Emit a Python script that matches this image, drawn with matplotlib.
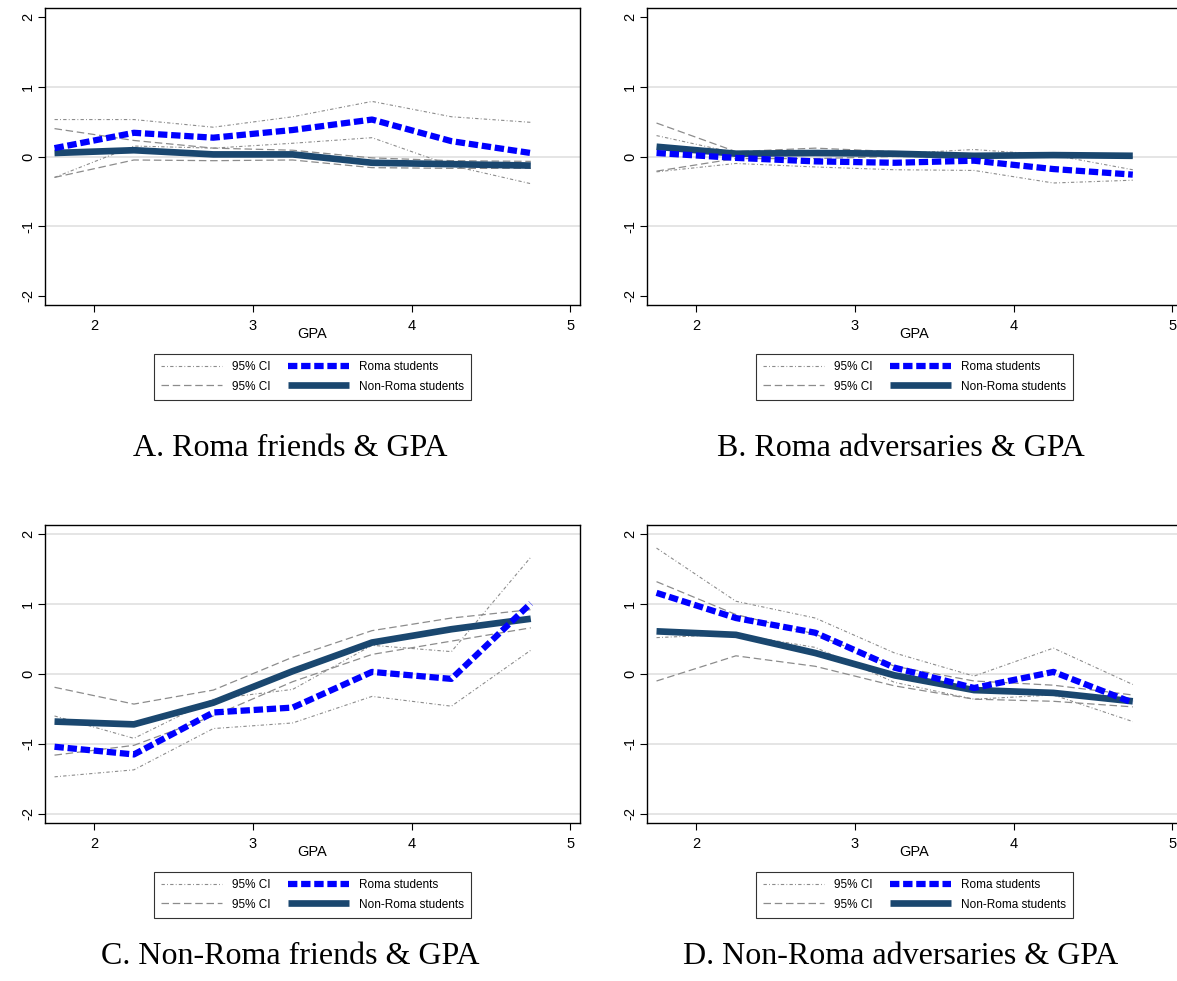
import matplotlib
matplotlib.use("Agg")
import matplotlib.pyplot as plt

plt.rcParams["axes.unicode_minus"] = False

GPA = [1.75, 2.25, 2.75, 3.25, 3.75, 4.25, 4.75]

# A. Roma friends & GPA
a_roma = [0.12, 0.34, 0.27, 0.38, 0.53, 0.22, 0.05]
a_roma_hi = [0.53, 0.53, 0.42, 0.57, 0.79, 0.57, 0.49]
a_roma_lo = [-0.30, 0.15, 0.12, 0.19, 0.27, -0.13, -0.39]
a_non = [0.05, 0.09, 0.03, 0.03, -0.09, -0.11, -0.13]
a_non_hi = [0.40, 0.23, 0.12, 0.09, -0.02, -0.06, -0.07]
a_non_lo = [-0.30, -0.05, -0.06, -0.05, -0.16, -0.17, -0.17]

# B. Roma adversaries & GPA
b_roma = [0.05, -0.02, -0.07, -0.09, -0.06, -0.18, -0.26]
b_roma_hi = [0.30, 0.05, 0.02, 0.04, 0.10, 0.02, -0.19]
b_roma_lo = [-0.22, -0.10, -0.15, -0.19, -0.20, -0.38, -0.34]
b_non = [0.14, 0.04, 0.05, 0.04, 0.01, 0.02, 0.01]
b_non_hi = [0.48, 0.07, 0.12, 0.07, 0.03, 0.05, 0.03]
b_non_lo = [-0.21, -0.03, -0.03, 0.00, -0.01, -0.01, -0.01]

# C. Non-Roma friends & GPA
c_roma = [-1.04, -1.15, -0.55, -0.48, 0.03, -0.07, 1.01]
c_roma_hi = [-0.60, -0.92, -0.36, -0.22, 0.41, 0.32, 1.67]
c_roma_lo = [-1.47, -1.37, -0.78, -0.70, -0.32, -0.46, 0.34]
c_non = [-0.68, -0.72, -0.41, 0.04, 0.45, 0.64, 0.79]
c_non_hi = [-0.19, -0.43, -0.23, 0.24, 0.62, 0.80, 0.92]
c_non_lo = [-1.16, -1.02, -0.60, -0.11, 0.28, 0.47, 0.66]

# D. Non-Roma adversaries & GPA
d_roma = [1.16, 0.80, 0.59, 0.09, -0.20, 0.03, -0.41]
d_roma_hi = [1.80, 1.04, 0.80, 0.30, -0.03, 0.37, -0.15]
d_roma_lo = [0.52, 0.57, 0.38, -0.12, -0.36, -0.30, -0.68]
d_non = [0.61, 0.56, 0.30, -0.02, -0.23, -0.27, -0.39]
d_non_hi = [1.32, 0.85, 0.57, 0.11, -0.10, -0.16, -0.30]
d_non_lo = [-0.10, 0.26, 0.11, -0.17, -0.36, -0.39, -0.47]

TITLES = ["A. Roma friends & GPA", "B. Roma adversaries & GPA",
          "C. Non-Roma friends & GPA", "D. Non-Roma adversaries & GPA"]
PANELS = [
    (a_roma, a_roma_hi, a_roma_lo, a_non, a_non_hi, a_non_lo),
    (b_roma, b_roma_hi, b_roma_lo, b_non, b_non_hi, b_non_lo),
    (c_roma, c_roma_hi, c_roma_lo, c_non, c_non_hi, c_non_lo),
    (d_roma, d_roma_hi, d_roma_lo, d_non, d_non_hi, d_non_lo),
]

W, H = 1177, 981
SANS = ["Liberation Sans", "DejaVu Sans"]
SERIF = ["Liberation Serif", "DejaVu Serif"]
NAVY = "#1a476f"
GREY = "#8c8c8c"

fig = plt.figure(figsize=(W / 100, H / 100), dpi=100)

# axes boxes in pixels: (left, top, right, bottom)
BOXES = [(45, 8, 580, 305), (647, 8, 1182, 305),
         (45, 525, 580, 823), (647, 525, 1182, 823)]
TITLE_X = [290, 901, 290, 901]
TITLE_Y = [449, 449, 956, 956]
LEG_Y = [377, 377, 895, 895]

for i, (box, data) in enumerate(zip(BOXES, PANELS)):
    l, t, r, b = box
    ax = fig.add_axes([l / W, 1 - b / H, (r - l) / W, (b - t) / H])
    roma, roma_hi, roma_lo, non, non_hi, non_lo = data

    grid_vals = [-1, 0, 1] if i < 2 else [-2, -1, 0, 1, 2]
    for g in grid_vals:
        ax.axhline(g, color="#e3e3e3", lw=1.3, zorder=0)

    ax.plot(GPA, roma_hi, color=GREY, lw=0.8, ls=(0, (3, 2, 0.8, 2)), label="95% CI")
    ax.plot(GPA, roma_lo, color=GREY, lw=0.8, ls=(0, (3, 2, 0.8, 2)))
    ax.plot(GPA, non_hi, color=GREY, lw=0.9, ls=(0, (6, 3)), label="95% CI")
    ax.plot(GPA, non_lo, color=GREY, lw=0.9, ls=(0, (6, 3)))
    ax.plot(GPA, roma, color="#0000ff", lw=4.5, ls=(0, (1.5, 0.6)),
            dash_capstyle="butt", label="Roma students", zorder=4)
    ax.plot(GPA, non, color=NAVY, lw=4.8, solid_capstyle="butt",
            label="Non-Roma students", zorder=3)

    ax.set_xlim(1.69, 5.06)
    ax.set_ylim(-2.13, 2.13)
    ax.set_xticks([2, 3, 4, 5])
    ax.set_yticks([-2, -1, 0, 1, 2])
    for lab in ax.get_yticklabels():
        lab.set_rotation(90)
        lab.set_va("center")
    ax.tick_params(length=5, width=0.8, labelsize=10.5)
    ax.tick_params(axis="x", pad=5)
    ax.tick_params(axis="y", pad=2)
    for lab in ax.get_xticklabels() + ax.get_yticklabels():
        lab.set_family(SANS)
    for s in ax.spines.values():
        s.set_linewidth(1.0)
    ax.set_xlabel("GPA", family=SANS, fontsize=10.5)
    ax.xaxis.set_label_coords(0.5, -0.075)

    handles, labels = ax.get_legend_handles_labels()
    leg = ax.legend(handles, labels, ncol=2, loc="center",
                    bbox_to_anchor=((l + r) / 2 / W, 1 - LEG_Y[i] / H),
                    bbox_transform=fig.transFigure, frameon=True, fancybox=False,
                    edgecolor="black", prop={"family": SANS, "size": 8.5},
                    handlelength=5.2, columnspacing=1.5, borderpad=0.6,
                    labelspacing=0.6)
    leg.get_frame().set_linewidth(0.8)

    fig.text(TITLE_X[i] / W, 1 - TITLE_Y[i] / H, TITLES[i], family=SERIF,
             fontsize=23, ha="center", va="center")

fig.savefig("out.png", dpi=100)
